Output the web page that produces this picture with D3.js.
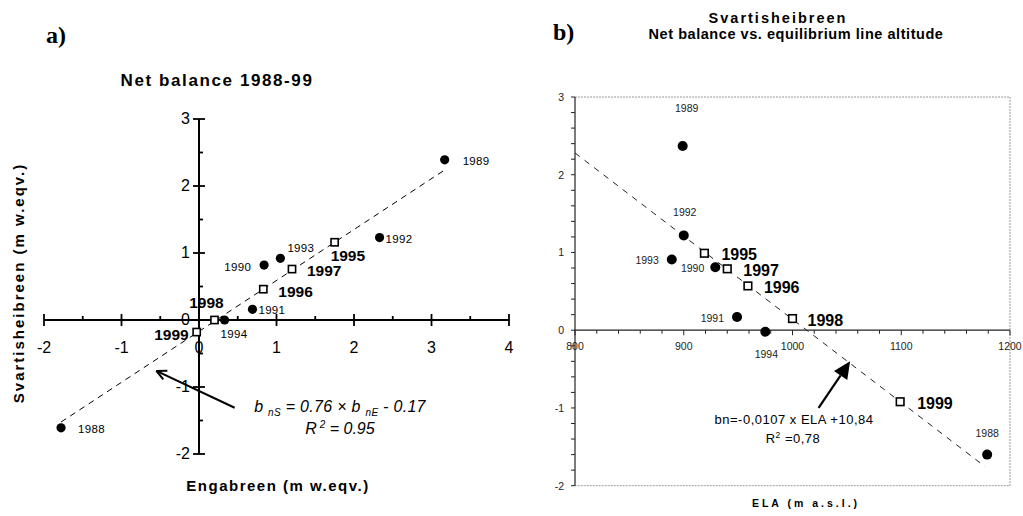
<!DOCTYPE html>
<html>
<head>
<meta charset="utf-8">
<script src="https://cdn.jsdelivr.net/npm/d3@7"></script>
<style>
  body { margin: 0; background: #fff; }
  svg { display: block; font-family: "Liberation Sans", Arial, sans-serif; }
</style>
</head>
<body>
<div id="chart"></div>
<script>
// ---- data: panel a) net balance Engabreen vs Svartisheibreen ----
var years = [1988, 1989, 1990, 1991, 1992, 1993, 1994, 1995, 1996, 1997, 1998, 1999];
var engabreen = [-1.78, 3.17, 0.84, 0.69, 2.33, 1.05, 0.33, 1.75, 0.83, 1.20, 0.20, -0.03];
var svartisA = [-1.61, 2.39, 0.82, 0.16, 1.23, 0.92, 0.00, 1.16, 0.46, 0.76, 0.00, -0.18];
// ---- data: panel b) ELA vs net balance Svartisheibreen ----
var ela = [1179, 899, 929, 949, 900, 889, 975, 919, 959, 940, 1000, 1099];
var svartisB = [-1.60, 2.37, 0.81, 0.17, 1.22, 0.91, -0.02, 0.99, 0.57, 0.79, 0.15, -0.92];
// 1995-1999 drawn as open squares
var openYears = [1995, 1996, 1997, 1998, 1999];

var xTicksA = [-2, -1, 0, 1, 2, 3, 4];
var yTicksA = [-2, -1, 0, 1, 2, 3];
var xTicksB = [800, 900, 1000, 1100, 1200];
var yTicksB = [-2, -1, 0, 1, 2, 3];

var fitA = { slope: 0.76, icpt: -0.17, from: -1.78, to: 3.17 };
var fitB = { slope: -0.0107, icpt: 10.84, from: 800, to: 1177 };

// label placement (dx, dy, anchor) per panel
var labA = {
  1988: [17, 5, "start"], 1989: [18, 5, "start"], 1990: [-13, 6, "end"], 1991: [6, 5, "start"],
  1992: [6, 5, "start"], 1993: [7, -6, "start"], 1994: [-4, 18, "start"], 1995: [-4, 19, "start"],
  1996: [15, 8, "start"], 1997: [15, 7, "start"], 1998: [-8, -12, "middle"], 1999: [-8, 8, "end"]
};
var labB = {
  1988: [0, -18, "middle"], 1989: [4, -34, "middle"], 1990: [-11, 5, "end"], 1991: [-13, 5, "end"],
  1992: [1, -19, "middle"], 1993: [-13, 5, "end"], 1994: [1, 26, "middle"], 1995: [17, 7, "start"],
  1996: [16, 7, "start"], 1997: [16, 7, "start"], 1998: [15, 7, "start"], 1999: [17, 7, "start"]
};

var W = 1023, H = 516;
var svg = d3.select("#chart").append("svg").attr("width", W).attr("height", H);

function marker(g, px, py, open, r) {
  if (open) {
    g.append("rect")
      .attr("x", px - r).attr("y", py - r)
      .attr("width", 2 * r).attr("height", 2 * r)
      .attr("fill", "#fff").attr("stroke", "#000").attr("stroke-width", 1.6);
  } else {
    g.append("circle").attr("cx", px).attr("cy", py).attr("r", r).attr("fill", "#000");
  }
}

// ================= panel a =================
(function () {
  var x = d3.scaleLinear().domain([-2, 4]).range([44, 509]);
  var y = d3.scaleLinear().domain([-2, 3]).range([454, 119]);
  var g = svg.append("g");

  g.append("text").attr("x", 46).attr("y", 43)
    .style("font-family", "Liberation Serif, serif").style("font-weight", "bold").style("font-size", "24px")
    .text("a)");
  g.append("text").attr("x", 217).attr("y", 86).attr("text-anchor", "middle")
    .style("font-weight", "bold").style("font-size", "17px").style("letter-spacing", "1.6px")
    .text("Net balance 1988-99");

  // axes through origin
  g.append("line").attr("x1", x(-2)).attr("x2", x(4)).attr("y1", y(0)).attr("y2", y(0))
    .attr("stroke", "#000").attr("stroke-width", 2);
  g.append("line").attr("x1", x(0)).attr("x2", x(0)).attr("y1", y(-2)).attr("y2", y(3))
    .attr("stroke", "#000").attr("stroke-width", 2);

  var xMinor = d3.range(-2, 4.01, 0.5);
  g.selectAll(".xt").data(xMinor).enter().append("line")
    .attr("x1", function (d) { return x(d); }).attr("x2", function (d) { return x(d); })
    .attr("y1", function (d) { return Number.isInteger(d) ? y(0) - 6 : y(0) - 4; })
    .attr("y2", function (d) { return Number.isInteger(d) ? y(0) + 6 : y(0); })
    .attr("stroke", "#000").attr("stroke-width", 1.8);
  var yMinor = d3.range(-2, 3.01, 0.5);
  g.selectAll(".yt").data(yMinor).enter().append("line")
    .attr("y1", function (d) { return y(d); }).attr("y2", function (d) { return y(d); })
    .attr("x1", function (d) { return Number.isInteger(d) ? x(0) - 6 : x(0); })
    .attr("x2", function (d) { return Number.isInteger(d) ? x(0) + 6 : x(0) + 4; })
    .attr("stroke", "#000").attr("stroke-width", 1.8);

  g.selectAll(".xl").data(xTicksA).enter().append("text")
    .attr("x", function (d) { return x(d); }).attr("y", y(0) + 33)
    .attr("text-anchor", "middle").style("font-size", "16px").text(function (d) { return d; });
  g.selectAll(".yl").data(yTicksA).enter().append("text")
    .attr("x", x(0) - 9).attr("y", function (d) { return y(d) + 5; })
    .attr("text-anchor", "end").style("font-size", "16px").text(function (d) { return d; });

  g.append("text").attr("transform", "translate(24," + 283 + ") rotate(-90)")
    .attr("text-anchor", "middle").style("font-weight", "bold").style("font-size", "15px")
    .style("letter-spacing", "2px").text("Svartisheibreen (m w.eqv.)");
  g.append("text").attr("x", 278).attr("y", 491).attr("text-anchor", "middle")
    .style("font-weight", "bold").style("font-size", "15px").style("letter-spacing", "1.5px")
    .text("Engabreen (m w.eqv.)");

  // regression line
  g.append("line")
    .attr("x1", x(fitA.from)).attr("y1", y(fitA.slope * fitA.from + fitA.icpt))
    .attr("x2", x(fitA.to)).attr("y2", y(fitA.slope * fitA.to + fitA.icpt))
    .attr("stroke", "#000").attr("stroke-width", 1).attr("stroke-dasharray", "6,5");

  years.forEach(function (yr, i) {
    var open = openYears.indexOf(yr) >= 0;
    var px = x(engabreen[i]), py = y(svartisA[i]);
    marker(g, px, py, open, open ? 3.6 : 4.6);
    var l = labA[yr];
    g.append("text").attr("x", px + l[0]).attr("y", py + l[1]).attr("text-anchor", l[2])
      .style("font-size", open ? "15.5px" : "11.5px").style("font-weight", open ? "bold" : "normal")
      .style("letter-spacing", open ? "0px" : "0.3px")
      .text(yr);
  });

  // arrow + equation
  var ax0 = x(0.46), ay0 = y(-1.31), ax1 = x(-0.55), ay1 = y(-0.76);
  g.append("line").attr("x1", ax0).attr("y1", ay0).attr("x2", ax1).attr("y2", ay1)
    .attr("stroke", "#000").attr("stroke-width", 2);
  var ang = Math.atan2(ay1 - ay0, ax1 - ax0);
  var hl = 11;
  [0.45, -0.45].forEach(function (da) {
    g.append("line").attr("x1", ax1).attr("y1", ay1)
      .attr("x2", ax1 - hl * Math.cos(ang + da)).attr("y2", ay1 - hl * Math.sin(ang + da))
      .attr("stroke", "#000").attr("stroke-width", 2);
  });

  var eq = g.append("text").attr("x", 340).attr("y", 412).attr("text-anchor", "middle")
    .style("font-style", "italic").style("font-size", "16px").style("letter-spacing", "0.3px");
  eq.append("tspan").text("b ");
  eq.append("tspan").attr("dy", 4).style("font-size", "10px").text("nS");
  eq.append("tspan").attr("dy", -4).text(" = 0.76 \u00d7 b ");
  eq.append("tspan").attr("dy", 4).style("font-size", "10px").text("nE");
  eq.append("tspan").attr("dy", -4).text(" - 0.17");
  var r2 = g.append("text").attr("x", 340).attr("y", 434).attr("text-anchor", "middle")
    .style("font-style", "italic").style("font-size", "16px");
  r2.append("tspan").text("R");
  r2.append("tspan").attr("dy", -6).style("font-size", "10px").text(" 2");
  r2.append("tspan").attr("dy", 6).text(" = 0.95");
})();

// ================= panel b =================
(function () {
  var x = d3.scaleLinear().domain([800, 1200]).range([575, 1010]);
  var y = d3.scaleLinear().domain([-2, 3]).range([485.7, 97]);
  var g = svg.append("g");

  g.append("text").attr("x", 553).attr("y", 40)
    .style("font-family", "Liberation Serif, serif").style("font-weight", "bold").style("font-size", "24px")
    .text("b)");
  g.append("text").attr("x", 778).attr("y", 23).attr("text-anchor", "middle")
    .style("font-weight", "bold").style("font-size", "14.5px").style("letter-spacing", "2px")
    .text("Svartisheibreen");
  g.append("text").attr("x", 796).attr("y", 39).attr("text-anchor", "middle")
    .style("font-weight", "bold").style("font-size", "14.5px").style("letter-spacing", "0.55px")
    .text("Net balance vs. equilibrium line altitude");

  // frame
  g.append("path")
    .attr("d", "M" + x(800) + "," + y(3) + "H" + x(1200) + "V" + y(-2) + "H" + x(800))
    .attr("fill", "none").attr("stroke", "#999").attr("stroke-width", 1).attr("stroke-dasharray", "2,1");
  g.append("line").attr("x1", x(800)).attr("x2", x(800)).attr("y1", y(-2)).attr("y2", y(3))
    .attr("stroke", "#222").attr("stroke-width", 1.2);
  g.append("line").attr("x1", x(800)).attr("x2", x(1200)).attr("y1", y(0)).attr("y2", y(0))
    .attr("stroke", "#222").attr("stroke-width", 1.2);

  g.selectAll(".xt").data(d3.range(800, 1201, 20)).enter().append("line")
    .attr("x1", function (d) { return x(d); }).attr("x2", function (d) { return x(d); })
    .attr("y1", y(0)).attr("y2", function (d) { return y(0) + (d % 100 === 0 ? 5 : 3.5); })
    .attr("stroke", "#222").attr("stroke-width", 1);
  g.selectAll(".yt").data(d3.range(-2, 3.01, 0.2)).enter().append("line")
    .attr("y1", function (d) { return y(d); }).attr("y2", function (d) { return y(d); })
    .attr("x1", x(800) - 4).attr("x2", x(800))
    .attr("stroke", "#222").attr("stroke-width", 1);

  g.selectAll(".xl").data(xTicksB).enter().append("text")
    .attr("x", function (d) { return x(d); }).attr("y", y(0) + 20)
    .attr("text-anchor", "middle").style("font-size", "10.5px").style("fill", "#222")
    .text(function (d) { return d; });
  g.selectAll(".yl").data(yTicksB).enter().append("text")
    .attr("x", x(800) - 11).attr("y", function (d) { return y(d) + 4; })
    .attr("text-anchor", "end").style("font-size", "10.5px").style("fill", "#222")
    .text(function (d) { return d; });

  g.append("text").attr("x", 806).attr("y", 507).attr("text-anchor", "middle")
    .style("font-weight", "bold").style("font-size", "10.5px").style("letter-spacing", "3px")
    .text("ELA (m a.s.l.)");

  g.append("line")
    .attr("x1", x(fitB.from)).attr("y1", y(fitB.slope * fitB.from + fitB.icpt))
    .attr("x2", x(fitB.to)).attr("y2", y(fitB.slope * fitB.to + fitB.icpt))
    .attr("stroke", "#222").attr("stroke-width", 1).attr("stroke-dasharray", "6,6");

  years.forEach(function (yr, i) {
    var open = openYears.indexOf(yr) >= 0;
    var px = x(ela[i]), py = y(svartisB[i]);
    marker(g, px, py, open, open ? 3.8 : 5);
    var l = labB[yr];
    g.append("text").attr("x", px + l[0]).attr("y", py + l[1]).attr("text-anchor", l[2])
      .style("font-size", open ? "16px" : "10.5px").style("font-weight", open ? "bold" : "normal")
      .style("fill", open ? "#000" : "#222")
      .text(yr);
  });

  // filled arrow
  var ax0 = x(1024), ay0 = y(-1.0), ax1 = x(1053), ay1 = y(-0.40);
  var ang = Math.atan2(ay1 - ay0, ax1 - ax0);
  var hl = 17, hw = 8;
  var bx = ax1 - hl * Math.cos(ang), by = ay1 - hl * Math.sin(ang);
  g.append("line").attr("x1", ax0).attr("y1", ay0).attr("x2", bx).attr("y2", by)
    .attr("stroke", "#000").attr("stroke-width", 2.2);
  g.append("path")
    .attr("d", "M" + ax1 + "," + ay1 +
      "L" + (bx + hw * Math.sin(ang)) + "," + (by - hw * Math.cos(ang)) +
      "L" + (bx - hw * Math.sin(ang)) + "," + (by + hw * Math.cos(ang)) + "Z")
    .attr("fill", "#000");

  g.append("text").attr("x", 794).attr("y", 424).attr("text-anchor", "middle")
    .style("font-size", "13px").style("letter-spacing", "0.5px").text("bn=-0,0107 x ELA +10,84");
  var r2 = g.append("text").attr("x", 793).attr("y", 443).attr("text-anchor", "middle")
    .style("font-size", "13px").style("letter-spacing", "0.5px");
  r2.append("tspan").text("R");
  r2.append("tspan").attr("dy", -5).style("font-size", "8.5px").text("2");
  r2.append("tspan").attr("dy", 5).text(" =0,78");
})();
</script>
</body>
</html>
